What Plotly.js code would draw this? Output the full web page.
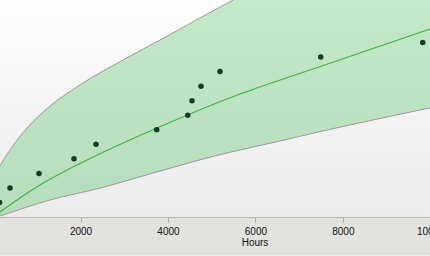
<!DOCTYPE html>
<html>
<head>
<meta charset="utf-8">
<script src="https://cdn.plot.ly/plotly-3.0.1.min.js"></script>
<style>
  html, body { margin: 0; padding: 0; width: 430px; height: 256px; overflow: hidden; }
  #bg {
    position: absolute; left: 0; top: 0; width: 430px; height: 256px;
    background: linear-gradient(to bottom, #ffffff 0px, #fafafa 40px, #ebebeb 217px,
      #e2e2df 217px, #e2e2df 253px, #d6d6d3 253px, #d6d6d3 254px, #e8e8e6 254px);
  }
  #chart { position: absolute; left: -40px; top: -20px; width: 590px; height: 276px; }
</style>
</head>
<body>
<div id="bg"></div>
<div id="chart"></div>
<script>
// Observed cumulative failures (hours at failure, cumulative count)
const failureHours = [140, 375, 1038, 1839, 2342, 3731, 4440, 4538, 4744, 5178, 7482, 9815];
const failureCount = [1, 2, 3, 4, 5, 6, 7, 8, 9, 10, 11, 12];

// Fitted curve
const fitHours = [0, 146, 1061, 2091, 3737, 5636, 7237, 10000];
const fitCount = [0, 0.34, 2.20, 3.85, 6.12, 8.46, 10.11, 12.95];

// Upper confidence bound
const upperHours = [100, 146, 375, 764, 1290, 2045, 2960, 3806, 4721, 5476, 6322, 7695, 10210, 12000];
const upperCount = [3.2, 3.51, 4.61, 6.12, 7.63, 9.22, 10.80, 12.17, 13.69, 14.92, 16.30, 18.57, 22.70, 25.0];

// Lower confidence bound
const lowerHours = [100, 146, 1290, 2434, 3806, 5064, 6551, 7832, 9982, 12000];
const lowerCount = [0.03, 0.07, 1.17, 1.99, 3.16, 4.20, 5.23, 6.12, 7.50, 8.7];

const tickValues = [2000, 4000, 6000, 8000, 10000, 12000];
const tickLabels = ['2000', '4000', '6000', '8000', '10000', '12000'];
const xTitle = 'Hours';

const bandX = upperHours.concat(lowerHours.slice().reverse());
const bandY = upperCount.concat(lowerCount.slice().reverse());

const traces = [
  {
    x: bandX, y: bandY, type: 'scatter', mode: 'lines', fill: 'toself',
    fillcolor: 'rgba(80,190,90,0.33)',
    line: { color: '#9a9a9a', width: 1, shape: 'spline', smoothing: 1 },
    hoverinfo: 'skip'
  },
  {
    x: fitHours, y: fitCount, type: 'scatter', mode: 'lines',
    line: { color: '#3cb34a', width: 1.2, shape: 'spline', smoothing: 0.8 }
  },
  {
    x: failureHours, y: failureCount, type: 'scatter', mode: 'markers',
    marker: { color: '#123d1f', size: 5.5 }
  }
];

const layout = {
  width: 590, height: 276,
  margin: { l: 0, r: 0, t: 0, b: 39, pad: 0 },
  paper_bgcolor: 'rgba(0,0,0,0)',
  plot_bgcolor: 'rgba(0,0,0,0)',
  showlegend: false,
  font: { family: 'Liberation Sans, Arial, sans-serif', size: 10, color: '#111' },
  xaxis: {
    range: [-768.5, 12726.3],
    tickmode: 'array', tickvals: tickValues, ticktext: tickLabels,
    showgrid: false, zeroline: false,
    showline: true, linecolor: '#b8b8b8', linewidth: 1,
    ticks: 'outside', ticklen: 5, tickcolor: '#b0b0b0', tickwidth: 1,
    tickfont: { size: 10, color: '#111' },
    automargin: false,
    title: { text: xTitle, standoff: 2, font: { size: 10, color: '#111' } }
  },
  yaxis: {
    range: [0, 16.30], visible: false, showgrid: false, zeroline: false, fixedrange: true
  }
};

Plotly.newPlot('chart', traces, layout, { staticPlot: true, displayModeBar: false });
</script>
</body>
</html>
